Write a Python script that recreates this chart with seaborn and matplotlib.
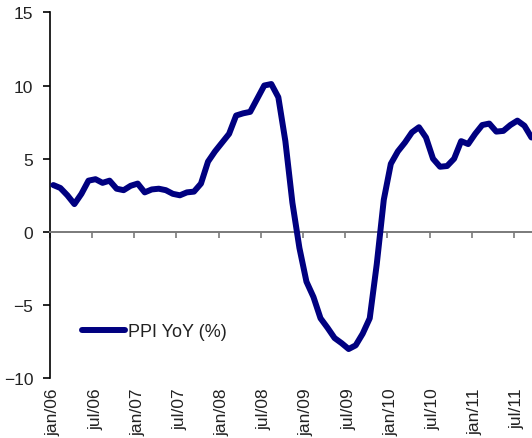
import matplotlib
matplotlib.use('Agg')
import matplotlib.pyplot as plt
import pandas as pd
import seaborn as sns

# monthly PPI year-on-year change, jan/06 .. sep/11
ppi_yoy = [3.2, 3.0, 2.5, 1.9, 2.6, 3.5, 3.6, 3.35, 3.5, 2.95, 2.85, 3.15,
           3.3, 2.7, 2.9, 2.95, 2.85, 2.6, 2.5, 2.7, 2.75, 3.3, 4.8, 5.5,
           6.1, 6.7, 7.95, 8.1, 8.2, 9.1, 10.0, 10.1, 9.2, 6.2, 2.0, -1.1,
           -3.4, -4.45, -5.9, -6.55, -7.25, -7.6, -8.0, -7.75, -6.95, -5.9, -2.2, 2.2,
           4.65, 5.5, 6.1, 6.8, 7.15, 6.45, 5.0, 4.45, 4.5, 5.0, 6.2, 6.0,
           6.7, 7.3, 7.4, 6.85, 6.9, 7.3, 7.6, 7.25, 6.45]
tick_labels = ['jan/06', 'jul/06', 'jan/07', 'jul/07', 'jan/08', 'jul/08',
               'jan/09', 'jul/09', 'jan/10', 'jul/10', 'jan/11', 'jul/11']
y_ticks = [-10, -5, 0, 5, 10, 15]

df = pd.DataFrame({'month': range(len(ppi_yoy)), 'ppi': ppi_yoy})

sns.set_style('white')
plt.rcParams['font.family'] = ['Liberation Sans', 'DejaVu Sans']

fig = plt.figure(figsize=(5.32, 4.39), dpi=100)
ax = fig.add_axes([0.0936, 0.136, 0.912, 0.8337])

sns.lineplot(data=df, x='month', y='ppi', color='#000080', linewidth=4.3,
             label='PPI YoY (%)', ax=ax, solid_joinstyle='round',
             solid_capstyle='round', zorder=3)

ax.set_xlim(-0.5, len(ppi_yoy) - 0.5)
ax.set_ylim(-10, 15)
ax.set_yticks(y_ticks)
ax.set_xlabel('')
ax.set_ylabel('')

for side in ['top', 'right']:
    ax.spines[side].set_visible(False)
ax.spines['left'].set_color('black')
ax.spines['left'].set_linewidth(1.2)
ax.spines['bottom'].set_position(('data', 0))
ax.spines['bottom'].set_color('#7a7a7a')
ax.spines['bottom'].set_linewidth(1.4)

# category boundaries carry the tick marks on the zero line
boundaries = [i * 6 - 0.5 for i in range(len(tick_labels))]
ax.set_xticks(boundaries)
ax.tick_params(axis='x', bottom=True, direction='out', length=4, width=1.2,
               color='#7a7a7a', labelbottom=False)
ax.tick_params(axis='y', left=True, direction='out', length=5, width=1.2,
               color='black', labelsize=12.5, pad=7, labelcolor='#222222')

# labels sit under the plot area at the category centres
sec = ax.secondary_xaxis('bottom')
sec.set_xticks([i * 6 for i in range(len(tick_labels))], tick_labels)
sec.tick_params(length=0, pad=6.5, labelsize=12.5, rotation=90,
                labelcolor='#222222')
sec.spines['bottom'].set_visible(False)

ax.legend(loc='center left', bbox_to_anchor=(0.066, 0.128), frameon=False,
          borderpad=0, borderaxespad=0, handlelength=2.4, handletextpad=0.15,
          fontsize=13, labelcolor='#222222')

fig.savefig('out.png', dpi=100)
